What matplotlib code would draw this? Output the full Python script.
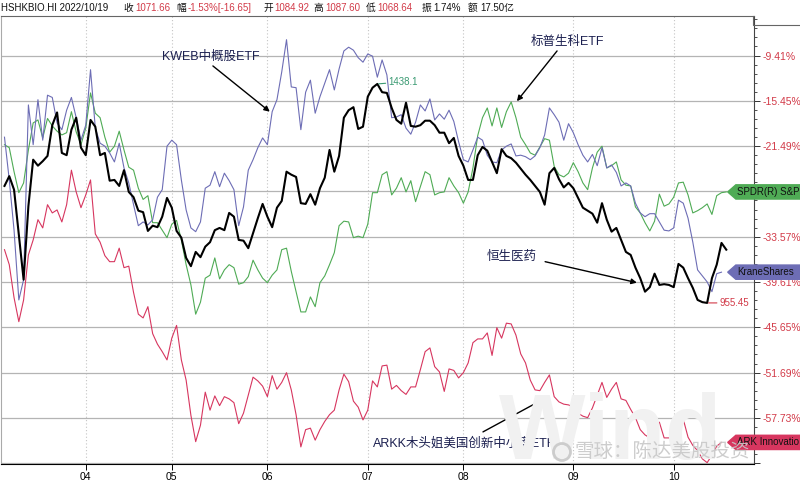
import numpy as np
import matplotlib
matplotlib.use("Agg")
import matplotlib.pyplot as plt
from matplotlib.patches import Polygon, Ellipse
from matplotlib.lines import Line2D
from matplotlib.ticker import AutoMinorLocator

plt.rcParams["font.family"] = ["Liberation Sans", "Noto Sans CJK SC", "DejaVu Sans"]

# percent change, one value per HK trading day (2022-03-09 .. 2022-10-19)
hshkbio = [
    -26.8, -25.5, -27.3, -33.3, -39.3, -29.5, -23.3, -24.1, -23.5, -22.8,
    -18.7, -17.0, -22.4, -22.7, -19.3, -17.7, -21.7, -22.7, -18.0, -18.9,
    -22.7, -22.4, -26.1, -26.0, -26.8, -24.7, -27.6, -28.3, -30.1, -30.3,
    -32.8, -32.1, -32.3, -30.9, -28.4, -29.7, -32.8, -33.7, -36.4, -37.5,
    -35.6, -36.3, -34.9, -34.3, -32.7, -32.4, -32.7, -30.4, -30.9, -34.0,
    -34.1, -35.1, -33.1, -31.1, -29.2, -30.9, -32.3, -29.7, -28.8, -24.9,
    -25.3, -25.6, -29.1, -29.2, -27.9, -29.3, -27.1, -25.7, -22.0, -24.9,
    -22.8, -17.7, -16.7, -16.3, -19.2, -18.9, -14.9, -13.7, -13.2, -14.3,
    -14.4, -16.4, -18.0, -18.5, -15.7, -18.8, -18.9, -18.7, -18.1, -18.1,
    -18.7, -19.7, -19.7, -21.1, -20.4, -22.8, -24.1, -26.0, -26.0, -22.7,
    -21.6, -22.1, -23.6, -25.1, -21.9, -22.8, -23.1, -23.7, -24.5, -25.3,
    -26.0, -26.8, -27.6, -29.3, -25.1, -24.4, -25.9, -27.0, -26.4, -27.1,
    -28.4, -29.7, -30.1, -30.5, -31.7, -29.1, -31.3, -32.9, -32.4, -34.0,
    -35.6, -36.0, -37.7, -39.1, -40.9, -40.3, -38.5, -40.0, -39.9, -40.0,
    -40.3, -37.2, -37.7, -39.1, -40.4, -42.0, -42.3, -42.4, -39.1, -37.3,
    -34.4, -35.3,
]
kweb = [
    -20.3, -26.0, -32.7, -42.0, -39.3, -16.0, -21.3, -15.3, -20.7, -14.7,
    -15.0, -18.4, -19.3, -16.7, -15.0, -17.7, -20.7, -18.7, -11.3, -19.1,
    -21.1, -21.5, -22.4, -23.6, -21.1, -24.4, -26.4, -29.3, -32.1, -31.6,
    -32.0, -31.3, -28.3, -27.3, -21.5, -20.7, -21.3, -26.0, -30.0, -32.4,
    -32.9, -31.6, -27.1, -26.7, -24.9, -26.9, -25.1, -26.1, -27.3, -32.1,
    -29.6, -24.7, -23.3, -21.7, -20.4, -21.3, -16.9, -15.3, -11.6, -7.3,
    -13.6, -13.7, -19.3, -14.3, -12.7, -17.1, -14.9, -13.1, -11.3, -14.0,
    -11.2, -8.8, -8.3, -8.7, -9.7, -10.3, -9.2, -9.5, -12.3, -10.0,
    -12.0, -17.7, -17.6, -17.3, -19.1, -19.9, -18.3, -16.0, -16.8, -15.2,
    -18.0, -17.2, -17.9, -16.7, -18.2, -20.9, -23.3, -23.6, -22.0, -20.3,
    -20.7, -22.7, -23.6, -23.7, -22.0, -21.5, -21.2, -22.8, -22.7, -22.9,
    -23.3, -22.8, -21.7, -20.0, -16.4, -17.3, -18.3, -20.7, -18.5, -19.7,
    -21.3, -22.7, -23.6, -22.6, -24.1, -21.7, -24.4, -24.0, -25.0, -26.8,
    -26.4, -26.8, -29.1, -30.4, -30.9, -30.5, -30.5, -31.6, -32.7, -32.8,
    -32.4, -28.7, -29.1, -31.1, -34.3, -38.0, -38.8, -39.6, -40.9, -38.5,
    -38.3,
]
xbi = [
    -21.3, -21.7, -24.9, -27.7, -26.4, -22.0, -18.4, -18.0, -20.4, -17.8,
    -18.8, -19.5, -20.0, -19.7, -16.9, -19.6, -21.3, -19.1, -14.4, -17.1,
    -17.7, -20.3, -22.3, -21.5, -19.5, -22.0, -24.3, -24.7, -27.1, -28.6,
    -28.1, -31.7, -31.7, -32.7, -33.7, -31.9, -31.4, -34.0, -37.3, -40.0,
    -43.9, -42.3, -39.1, -38.7, -36.4, -39.2, -38.0, -37.3, -37.7, -39.9,
    -39.7, -38.9, -36.7, -38.0, -39.1, -39.7, -38.7, -38.0, -35.3, -35.1,
    -38.2, -40.9, -43.6, -43.6, -41.6, -42.9, -39.7, -38.8, -37.3, -35.7,
    -32.1, -31.5, -31.6, -33.7, -33.5, -33.7, -31.9, -27.7, -27.7, -25.3,
    -24.9, -28.0, -27.1, -25.7, -27.6, -26.1, -28.9, -26.9, -24.9, -25.3,
    -28.0, -27.7, -27.6, -25.7, -26.8, -27.7, -29.1, -27.6, -24.4, -20.1,
    -17.7, -16.4, -18.8, -16.4, -19.0, -16.9, -15.6, -17.7, -20.3, -21.3,
    -22.4, -22.7, -21.6, -20.5, -20.7, -24.2, -25.3, -25.6, -25.1, -23.7,
    -24.9, -26.4, -27.3, -24.4, -22.3, -21.5, -24.4, -24.1, -23.6, -26.0,
    -26.7, -26.8, -29.6, -30.4, -31.7, -32.8, -31.5, -27.9, -29.5, -29.2,
    -28.3, -26.4, -26.3, -28.0, -30.4, -30.1, -29.7, -29.2, -30.6, -28.1,
    -27.7, -27.6,
]
arkk = [
    -35.3, -37.3, -41.7, -44.9, -42.0, -36.0, -34.0, -31.3, -32.4, -29.3,
    -30.4, -30.0, -31.6, -29.3, -24.7, -27.6, -29.7, -28.0, -26.0, -33.2,
    -34.3, -36.1, -36.9, -36.9, -35.1, -37.7, -37.5, -41.0, -43.9, -44.4,
    -42.9, -46.5, -47.9, -48.9, -50.0, -47.1, -45.4, -50.0, -52.7, -57.4,
    -60.9, -58.7, -54.3, -56.7, -54.8, -56.1, -54.9, -55.2, -55.7, -58.5,
    -57.1, -54.7, -52.3, -52.8, -53.5, -54.9, -52.1, -53.9, -53.0, -51.7,
    -54.0, -57.3, -61.6, -59.3, -59.1, -60.7, -59.3, -58.2, -57.3, -56.7,
    -54.0, -51.9, -52.9, -55.5, -56.3, -58.0, -56.7, -52.8, -53.6, -50.8,
    -50.7, -53.9, -53.4, -54.1, -54.6, -53.6, -53.6, -51.3, -48.9, -48.4,
    -50.9, -51.6, -54.2, -51.2, -51.4, -52.4, -51.7, -50.4, -47.7, -47.2,
    -47.2, -46.4, -49.4, -45.7, -47.1, -45.1, -45.2, -46.7, -49.2, -50.4,
    -52.7, -54.0, -54.1, -53.0, -52.0, -54.9, -55.6, -55.9, -56.0, -56.3,
    -57.1, -57.5, -57.7, -56.4, -54.7, -53.0, -55.0, -53.9, -53.0, -55.2,
    -55.4, -56.6, -57.7, -59.3, -60.0, -60.4, -59.1, -58.3, -60.4, -60.4,
    -60.3, -58.2, -57.9, -60.3, -61.4, -62.1, -63.2, -63.7, -62.7, -61.5,
    -61.0,
]

month_pos = [17, 35, 55, 76, 96, 119, 140]
month_labels = ["04", "05", "06", "07", "08", "09", "10"]
pct_ticks = [-9.41, -15.45, -21.49, -27.53, -33.57, -39.61, -45.65, -51.69, -57.73, -63.77]
pct_labels = ["-9.41%", "-15.45%", "-21.49%", "", "-33.57%", "-39.61%",
              "-45.65%", "-51.69%", "-57.73%", ""]

header = [
    (1, "HSHKBIO.HI 2022/10/19", "k"), (123, "收", "k"), (135, "1071.66", "r"),
    (176, "幅", "k"), (188, "-1.53%[-16.65]", "r"), (263, "开", "k"),
    (274, "1084.92", "r"), (313, "高", "k"), (325, "1087.60", "r"),
    (366, "低", "k"), (377, "1068.64", "r"), (422, "振", "k"),
    (433, "1.74%", "k"), (468, "额", "k"), (480, "17.50亿", "k"),
]

RED = "#d23a48"
GREEN = "#4fab55"
PURPLE = "#6d6db5"
CRIMSON = "#d7365f"
NAVY = "#1c2050"

W, H = 800, 483
fig = plt.figure(figsize=(W / 100, H / 100), dpi=100)
fig.patch.set_facecolor("white")
ax = fig.add_axes([1 / W, 1 - 464 / H, 753 / W, 448 / H])

# watermarks behind the lines
fig.text(610 / W, 1 - 435 / H, "Wind", fontsize=66, fontweight="bold",
         color="#f1f1f1", ha="center", va="center", zorder=0.1)

ax.set_facecolor("none")
ax.plot(np.arange(len(xbi)), xbi, color=GREEN, lw=0.8, zorder=3)
ax.plot(np.arange(len(kweb)), kweb, color=PURPLE, lw=0.8, zorder=3)
ax.plot(np.arange(len(arkk)), arkk, color=CRIMSON, lw=0.8, zorder=3)
ax.plot(np.arange(len(hshkbio)), hshkbio, color="black", lw=1.5, zorder=4)

ax.set_xlim(-0.73, 156.8)
ax.set_ylim(-63.88, -4.14)

ax.yaxis.tick_right()
ax.set_yticks(pct_ticks, pct_labels)
ax.yaxis.set_minor_locator(AutoMinorLocator(5))
ax.tick_params(axis="y", which="major", length=4, width=0.7, colors="#333333",
               labelcolor=RED, labelsize=7.5, pad=2)
ax.tick_params(axis="y", which="minor", length=2, width=0.6, colors="#333333")
ax.set_xticks(month_pos, month_labels)
ax.tick_params(axis="x", length=4, width=0.7, labelsize=7.5, pad=2)

ax.grid(axis="y", color="#b4b4b4", lw=0.9)
ax.grid(axis="x", color="#c4c4c4", lw=0.8, ls=(0, (1, 2)))
ax.set_axisbelow(True)
ax.spines["bottom"].set_color("black")
ax.spines["left"].set_color("#aaaaaa")
ax.spines["top"].set_color("#666666")
ax.spines["right"].set_color("#444444")
for s in ax.spines.values():
    s.set_linewidth(0.8)

# tab line at top right
fig.add_artist(Line2D([753 / W, 753 / W, 1], [1 - 16 / H, 1 - 25 / H, 1 - 25 / H],
                      color="#666666", lw=0.8))

# header
for x, txt, c in header:
    fig.text(x / W, 1 - 8 / H, txt, fontsize=7, color=RED if c == "r" else "#111111",
             ha="left", va="center")

# end-of-series tags (text cut at the right edge as in the source)
def tag(y, text, color):
    hh = 0.95
    ax.add_patch(Polygon([(151.3, y), (153.0, y + hh), (175, y + hh), (175, y - hh),
                          (153.0, y - hh)], closed=True, fc=color, ec=color,
                         clip_on=False, zorder=6))
    ax.text(153.3, y, text, fontsize=7, color="#111111", va="center", ha="left",
            clip_on=False, zorder=7)

tag(xbi[-1], "SPDR(R) S&P", GREEN)
tag(kweb[-1], "KraneShares", PURPLE)
tag(arkk[-1], "ARK Innovatio", CRIMSON)

# max / min labels of the index
imax = int(np.argmax(hshkbio))
imin = int(np.argmin(hshkbio))
ax.annotate("1438.1", xy=(imax, hshkbio[imax]), xytext=(8, 1.5),
            textcoords="offset points", fontsize=7, color="#3a9a72", va="center",
            arrowprops=dict(arrowstyle="-", color="#3a9a72", lw=0.8,
                            shrinkA=0, shrinkB=1), zorder=6)
ax.annotate("955.45", xy=(imin, hshkbio[imin]), xytext=(9, 0),
            textcoords="offset points", fontsize=7, color=RED, va="center",
            arrowprops=dict(arrowstyle="-", color=RED, lw=0.8,
                            shrinkA=0, shrinkB=1), zorder=6)

# callouts
arrow = dict(arrowstyle="-|>", color="black", lw=1.0, mutation_scale=8,
             shrinkA=0, shrinkB=0)
ax.text(43.2, -9.6, "KWEB中概股ETF", fontsize=9, color=NAVY, ha="center", va="center",
        zorder=6)
ax.annotate("", xy=(55.5, -16.9), xytext=(43.6, -10.8), arrowprops=arrow, zorder=6)
ax.text(117.7, -7.6, "标普生科ETF", fontsize=9, color=NAVY, ha="center", va="center",
        zorder=6)
ax.annotate("", xy=(107.2, -15.5), xytext=(115.6, -8.8), arrowprops=arrow, zorder=6)
ax.text(106.0, -36.3, "恒生医药", fontsize=9, color=NAVY, ha="center", va="center",
        zorder=6)
ax.annotate("", xy=(132.3, -39.7), xytext=(113.1, -36.9), arrowprops=arrow, zorder=6)
ax.text(96.1, -61.1, "ARKK木头姐美国创新中小盘ETF", fontsize=9, color=NAVY,
        ha="center", va="center", zorder=6)
ax.annotate("", xy=(113.7, -54.9), xytext=(100.1, -59.6), arrowprops=arrow, zorder=6)

# xueqiu watermark
fig.add_artist(Ellipse((562 / W, 1 - 452 / H), 17 / W, 17 / H, fill=False,
                       ec="#c8c8c8", lw=2.0, alpha=0.9, zorder=8))
fig.text(575 / W, 1 - 452 / H, "雪球：陈达美股投资", fontsize=14, color="#c8c8c8",
         alpha=0.9, ha="left", va="center", zorder=8)

fig.savefig("out.png", dpi=100, facecolor="white")
